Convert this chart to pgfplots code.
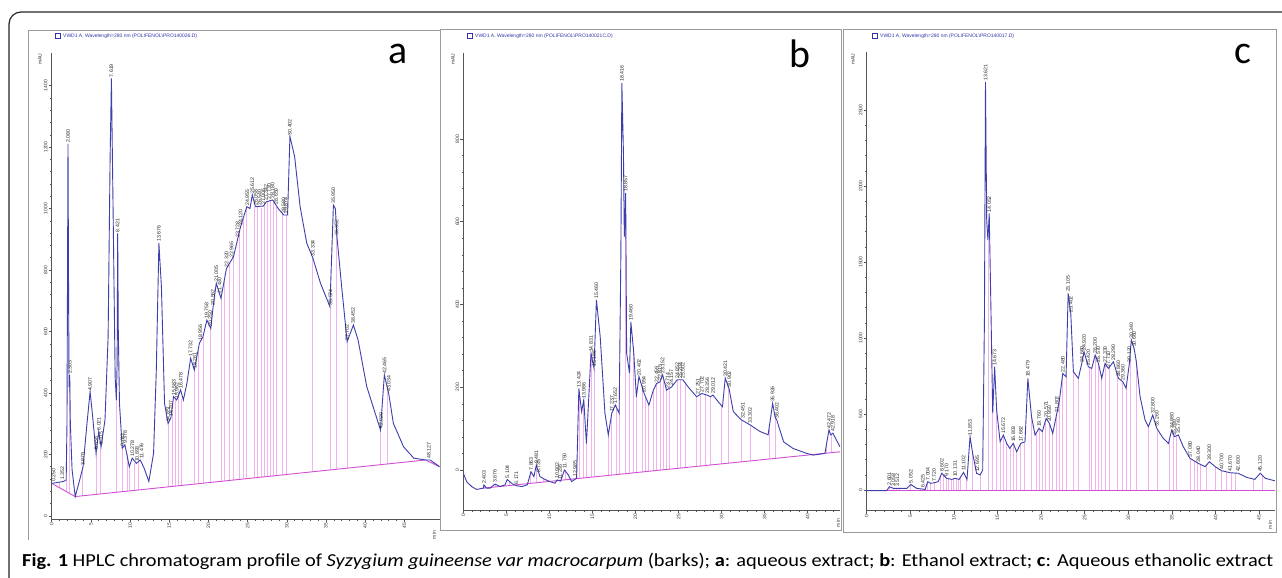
\documentclass[border=0pt]{standalone}
\usepackage{fontspec}
\setmainfont{Liberation Sans}
\newfontfamily\carlito{Carlito}
\usepackage{pgfplots}
\usepackage{pgfplotstable}
\pgfplotsset{compat=1.18}

\definecolor{trace}{RGB}{62,62,172}
\definecolor{droppink}{HTML}{F2B2EC}
\definecolor{basemag}{HTML}{D24ED2}
\definecolor{axisgray}{HTML}{555555}
\definecolor{framegray}{HTML}{9A9A9A}
\definecolor{hdrblue}{HTML}{3434A8}
\definecolor{lblgray}{HTML}{2A2A2A}

% drop lines: time, baseline, signal
\pgfplotstableread{
t base top
1.00 92 110
1.90 79 117
2.22 75 420
3.95 66 160
5.65 70 205
6.25 72 225
8.25 77 377
9.00 79 220
9.60 81 200
9.95 82 160
10.60 83 172
11.05 84 178
14.85 95 301
15.35 96 330
15.75 97 380
16.15 98 390
16.60 99 380
18.20 103 475
18.70 105 540
19.30 106 583
20.30 109 610
21.60 112 708
22.00 114 770
22.70 115 815
23.20 117 843
23.90 119 925
24.40 120 965
24.90 121 1006
25.90 124 1006
26.30 125 1005
26.80 126 1003
27.10 127 1010
27.50 128 1022
27.90 129 1025
28.30 130 1027
28.70 131 1005
29.40 133 985
29.90 135 979
33.30 144 841
35.60 150 681
36.30 152 930
37.70 155 567
42.00 167 280
42.80 169 420
}\dropA

\pgfplotstableread{
t v
0.250 108
1.352 113
2.080 1210
2.303 458
3.979 160
4.907 404
5.658 210
6.021 274
6.315 228
7.619 1423
8.421 919
9.032 222
9.378 231
10.278 188
10.893 171
11.476 182
13.676 887
14.851 301
15.207 318
15.583 388
15.962 377
16.478 410
17.732 513
18.261 475
18.956 565
19.758 637
20.250 612
20.562 681
21.005 757
21.430 720
22.320 805
22.965 835
23.728 900
24.120 941
24.955 1006
25.612 1044
26.058 1006
26.540 1006
27.006 1008
27.342 1022
27.730 1025
28.180 1028
28.650 1010
29.580 979
29.874 979
30.402 1234
33.334 841
35.574 681
35.950 1011
36.352 908
37.702 567
38.452 621
42.020 280
42.465 459
43.034 399
48.127 182
}\peakA

\pgfplotstableread{
t base top
2.40 -44 -36
3.68 -41 -34
5.30 -38 -26
7.80 -32 -4
8.50 -31 12
9.30 -29 -20
11.80 -24 0
12.80 -22 -20
13.50 -20 190
14.00 -19 169
14.30 -19 64
14.90 -17 282
15.20 -17 246
16.84 -13 85
17.23 -12 137
17.73 -11 157
18.10 -11 137
18.78 -9 669
19.28 -8 234
19.74 -7 300
20.13 -6 177
20.80 -5 205
21.10 -4 180
21.50 -3 160
22.07 -2 193
22.45 -1 209
22.84 -1 213
23.23 0 220
23.60 1 193
23.90 2 196
24.85 4 218
25.16 4 218
25.75 6 212
27.10 8 177
27.56 9 184
28.07 11 183
28.65 12 177
30.00 15 155
30.78 16 200
32.30 19 121
33.30 22 109
35.54 26 110
36.20 28 129
42.20 40 70
42.78 42 87
}\dropB

\pgfplotstableread{
t v
2.403 -36
3.676 -34
5.104 -23
6.171 -38
7.863 -4
8.481 12
8.735 -10
10.902 -24
11.236 -27
11.750 0
12.985 -20
13.424 197
13.986 169
14.831 282
15.186 246
15.460 411
17.237 137
17.652 157
18.416 935
18.857 669
19.460 358
20.402 226
20.954 185
22.459 209
22.815 213
23.152 230
23.714 193
24.157 201
24.852 218
25.204 218
25.502 218
27.251 180
27.702 185
28.356 181
29.012 181
30.421 222
30.902 197
32.451 121
33.302 109
35.926 161
36.402 121
42.472 97
42.918 89
}\peakB

\pgfplotstableread{
t base top
2.60 0 22
3.06 0 11
3.36 0 11
3.75 0 11
5.05 0 37
6.12 0 8
6.96 0 50
7.34 0 44
7.76 0 48
8.41 0 90
8.79 0 100
9.10 0 80
9.37 0 75
9.67 0 72
9.94 0 72
10.24 0 77
10.51 0 72
10.78 0 90
11.39 0 75
12.16 0 241
13.00 0 99
13.90 0 1645
14.45 0 504
14.91 0 526
15.29 0 318
15.67 0 362
16.06 0 307
16.44 0 274
16.82 0 307
17.20 0 252
17.58 0 300
18.04 0 315
18.92 0 482
19.42 0 370
19.76 0 406
20.15 0 384
20.53 0 460
20.95 0 439
21.33 0 373
21.71 0 480
22.10 0 592
22.48 0 767
22.86 0 745
23.70 0 778
24.27 0 735
25.54 0 805
25.80 0 800
26.19 0 888
26.57 0 833
26.95 0 735
27.33 0 833
27.83 0 810
28.75 0 750
29.36 0 713
29.74 0 669
30.20 0 860
30.89 0 855
32.30 0 417
33.33 0 400
34.67 0 320
35.17 0 370
35.55 0 355
37.16 0 205
37.54 0 190
37.92 0 178
38.23 0 170
38.99 0 165
39.95 0 154
40.71 0 127
41.28 0 120
41.86 0 113
42.32 0 112
44.34 0 72
45.41 0 100
}\dropC

\pgfplotstableread{
t v
2.601 22
3.058 11
3.512 11
5.052 37
6.425 8
7.004 55
7.720 48
8.602 110
9.170 77
10.131 77
11.102 116
11.853 351
12.695 110
13.621 2686
14.052 1820
14.673 811
15.672 362
16.803 307
17.662 307
18.479 735
19.760 406
20.571 471
20.950 439
21.802 504
22.480 767
23.105 1294
23.402 1162
24.660 833
24.920 910
25.420 811
26.200 888
26.570 833
27.330 833
27.710 800
28.290 844
28.860 735
29.360 713
30.120 833
30.340 987
30.660 932
32.800 493
33.260 406
34.980 395
35.280 351
35.740 362
37.080 208
38.040 175
39.300 186
40.700 127
41.670 114
42.600 110
45.120 110
}\peakC

\pgfplotsset{
  chrom/.style={
    scale only axis,
    axis lines=left,
    axis line style={-, draw=axisgray, line width=0.6bp},
    tick align=outside,
    every tick/.style={draw=axisgray, line width=0.5bp},
    major tick length=3bp,
    minor tick length=1.6bp,
    minor tick num=4,
    xtick={0,5,...,45},
    tick label style={font=\fontsize{5}{5}\selectfont, text=black!80, inner sep=1bp},
    xticklabel style={rotate=90, anchor=east},
    yticklabel style={rotate=90, anchor=south},
    /pgf/number format/assume math mode=true,
    /pgf/number format/1000 sep={},
  },
  drops/.style={draw=none, forget plot,
    error bars/.cd, y dir=minus, y explicit, error mark=none,
    error bar style={draw=droppink, line width=0.75bp}},
  peaklbl/.style={draw=none, point meta=x,
    nodes near coords={\pgfmathprintnumber[fixed,fixed zerofill,precision=3]{\pgfplotspointmeta}},
    every node near coord/.append style={rotate=90, anchor=west,
      font=\fontsize{5.2}{5.2}\selectfont, text=lblgray, inner sep=1.2bp}},
}

\begin{document}
\begin{tikzpicture}
\useasboundingbox (0,0) rectangle (1282bp,578bp);
\fill[white] (0,0) rectangle (1282bp,578bp);

% panel a
\begin{axis}[chrom, at={(51.7bp,59bp)}, anchor=south west,
  width=387.9bp, height=465.7bp,
  xmin=0, xmax=49.5, ymin=-10, ymax=1505, ytick={0,200,...,1400}]
\addplot[drops] table[x=t, y=top, y error minus expr=\thisrow{top}-\thisrow{base}] {\dropA};
\addplot[basemag, line width=0.9bp] coordinates {(0,106) (3.0,63) (47.7,182) (49.5,160)};
\addplot[trace, line width=0.9bp] coordinates {
(0,106) (1.0,110) (1.5,112) (1.85,117) (1.95,300) (2.08,1210) (2.16,700) (2.22,420)
(2.30,458) (2.38,300) (2.6,150) (3.0,63) (3.5,110) (4.0,160) (4.5,300) (4.9,404)
(5.2,330) (5.66,204) (6.0,274) (6.3,225) (6.8,312) (7.2,583) (7.45,1158) (7.62,1423)
(7.85,963) (8.1,450) (8.25,377) (8.35,500) (8.42,919) (8.5,600) (8.65,366) (9.0,220)
(9.35,231) (9.9,160) (10.28,188) (10.8,171) (11.3,182) (11.8,155) (12.4,112) (13.0,204)
(13.35,475) (13.68,887) (14.0,746) (14.4,366) (14.85,301) (15.2,318) (15.55,388)
(15.95,377) (16.45,410) (16.8,377) (17.25,431) (17.73,513) (18.2,475) (18.85,562)
(19.3,583) (19.8,637) (20.3,610) (20.6,681) (21.0,757) (21.6,708) (22.3,805) (23.2,843)
(24.1,941) (24.9,1006) (25.3,1000) (25.6,1044) (26.0,1006) (27.0,1008) (27.4,1022)
(28.2,1028) (28.9,1000) (29.6,979) (30.1,979) (30.4,1234) (31.0,1169) (31.7,1006)
(32.55,887) (33.3,841) (34.3,757) (35.5,681) (35.95,1011) (36.2,1000) (36.4,908)
(37.0,746) (37.7,567) (38.5,621) (39.1,572) (40.2,421) (41.95,280) (42.45,459)
(42.8,420) (43.0,399) (43.6,301) (44.9,225) (46.2,188) (47.7,182) (48.3,182) (49.5,160)};
\addplot[peaklbl] table[x=t, y=v] {\peakA};
\end{axis}

% panel b
\begin{axis}[chrom, at={(463.3bp,68bp)}, anchor=south west,
  width=376.7bp, height=456.7bp,
  xmin=0, xmax=43.75, ymin=-96.7, ymax=1007, ytick={0,200,...,800}]
\addplot[drops] table[x=t, y=top, y error minus expr=\thisrow{top}-\thisrow{base}] {\dropB};
\addplot[basemag, line width=0.9bp] coordinates {(2.3,-44) (43.75,44)};
\addplot[trace, line width=0.9bp] coordinates {
(0,-8) (0.39,-28) (0.97,-40) (1.55,-47) (2.3,-44) (2.40,-36) (2.7,-44) (3.1,-44)
(3.68,-34) (4.26,-40) (4.84,-36) (5.10,-23) (5.73,-34) (6.17,-38) (6.8,-40) (7.43,-36)
(7.86,-4) (8.2,-16) (8.48,12) (8.9,-16) (9.5,-23) (10.07,-28) (10.65,-32) (10.9,-24)
(11.3,-27) (11.75,0) (12.2,-12) (12.58,-28) (13.16,-20) (13.42,197) (13.74,141)
(13.99,169) (14.3,64) (14.5,145) (14.83,282) (15.18,246) (15.46,411) (15.9,322)
(16.45,137) (16.84,85) (17.24,137) (17.65,157) (18.1,137) (18.3,524) (18.416,935)
(18.6,765) (18.7,564) (18.857,669) (18.97,282) (19.3,234) (19.46,358) (19.8,282)
(20.1,177) (20.4,226) (21.0,185) (21.56,157) (22.07,193) (22.45,209) (22.84,213)
(23.15,230) (23.6,193) (24.2,201) (24.85,218) (25.5,218) (26.1,201) (27.1,177)
(27.7,185) (28.3,181) (28.7,177) (29.0,181) (29.6,165) (30.1,153) (30.42,222)
(30.86,197) (31.36,141) (32.3,121) (33.3,109) (34.46,93) (35.4,85) (35.93,161)
(36.2,129) (36.4,121) (37.2,68) (38.3,52) (39.9,40) (40.65,36) (42.0,40) (42.47,97)
(42.66,85) (42.92,89) (43.75,56)};
\addplot[peaklbl] table[x=t, y=v] {\peakB};
\end{axis}

% panel c
\begin{axis}[chrom, at={(866.7bp,67.3bp)}, anchor=south west,
  width=408.3bp, height=459bp,
  xmin=0, xmax=46.82, ymin=-136, ymax=2884, ytick={0,500,...,2500}]
\addplot[drops] table[x=t, y=top, y error minus expr=\thisrow{top}-\thisrow{base}] {\dropC};
\addplot[basemag, line width=0.9bp] coordinates {(2.3,0) (46.82,0)};
\addplot[trace, line width=0.9bp] coordinates {
(0,-4) (2.29,-4) (2.60,22) (3.06,11) (3.8,11) (4.6,11) (5.05,37) (5.73,11) (6.7,4)
(7.0,55) (7.34,44) (7.72,48) (8.2,55) (8.6,110) (9.17,77) (9.75,70) (10.13,77)
(10.6,70) (11.1,116) (11.5,70) (11.85,351) (12.15,241) (12.6,110) (13.0,99) (13.3,132)
(13.5,1118) (13.62,2686) (13.76,1776) (13.9,1645) (14.05,1820) (14.2,1338) (14.45,504)
(14.67,811) (14.9,526) (15.3,318) (15.67,362) (16.05,307) (16.4,274) (16.8,307)
(17.2,252) (17.66,307) (18.15,318) (18.48,735) (18.9,482) (19.3,362) (19.76,406)
(20.14,384) (20.57,471) (20.95,439) (21.33,373) (21.8,504) (22.1,592) (22.48,767)
(22.86,745) (23.1,1294) (23.4,1162) (23.7,778) (24.27,735) (24.66,833) (24.92,910)
(25.42,811) (25.8,800) (26.2,888) (26.57,833) (26.95,735) (27.33,833) (27.71,800)
(28.29,844) (28.86,735) (29.36,713) (29.74,669) (30.12,833) (30.34,987) (30.66,932)
(30.89,855) (31.35,614) (31.92,460) (32.3,417) (32.8,493) (33.26,406) (34.0,340)
(34.6,307) (34.98,395) (35.28,351) (35.74,362) (36.3,285) (37.08,208) (38.04,175)
(38.8,154) (39.3,186) (39.95,154) (40.7,127) (41.67,114) (42.6,110) (43.58,83)
(44.5,70) (45.12,110) (45.7,77) (46.8,61)};
\addplot[peaklbl] table[x=t, y=v] {\peakC};
\end{axis}

% frames, headers and caption (pixel coordinates, y downwards)
\begin{scope}[x=1bp, y=-1bp, yshift=578bp]
  \draw[black!85, line width=1.2bp, rounded corners=12bp] (9,12) rectangle (1300,600);
  \draw[framegray, line width=0.8bp] (28,540) -- (28,30) -- (440,30) -- (440,530);
  \draw[framegray, line width=0.8bp] (440,29) -- (841,29) -- (841,530) -- (440,530);
  \draw[framegray, line width=0.8bp] (843,29) rectangle (1276,532);
  \foreach \hx/\txt in {55/{(POLIFENOL\textbackslash PRO140026.D)}, 467/{(POLIFENOL\textbackslash PRO140021C.D)}, 872/{(POLIFENOL\textbackslash PRO140017.D)}} {
    \draw[hdrblue, line width=0.6bp] (\hx,33.5) rectangle ++(5,5);
    \node[anchor=west, inner sep=0, text=hdrblue, font=\fontsize{5}{5}\selectfont] at (\hx+8,36) {VWD1 A, Wavelength=280 nm \txt};
  }
  \foreach \mx/\my in {40/59, 453/59, 853/59}
    \node[rotate=90, inner sep=0, font=\fontsize{5}{5}\selectfont, text=black!80] at (\mx,\my) {mAU};
  \foreach \nx/\ny in {434/535, 838/523, 1270/525}
    \node[rotate=90, inner sep=0, font=\fontsize{5}{5}\selectfont, text=black!80] at (\nx,\ny) {min};
  \node[font=\carlito\fontsize{40}{40}\selectfont] at (398,54) {a};
  \node[font=\carlito\fontsize{40}{40}\selectfont] at (800,54) {b};
  \node[font=\carlito\fontsize{40}{40}\selectfont] at (1243,54) {c};
  \node[anchor=base west, inner sep=0, font=\carlito\fontsize{17}{17}\selectfont] at (22,567)
    {\scalebox{1.203}[1.08]{\textbf{Fig. 1} HPLC chromatogram profile of \textit{Syzygium guineense var macrocarpum} (barks); \textbf{a}: aqueous extract; \textbf{b}: Ethanol extract; \textbf{c}: Aqueous ethanolic extract}};
\end{scope}
\end{tikzpicture}
\end{document}
